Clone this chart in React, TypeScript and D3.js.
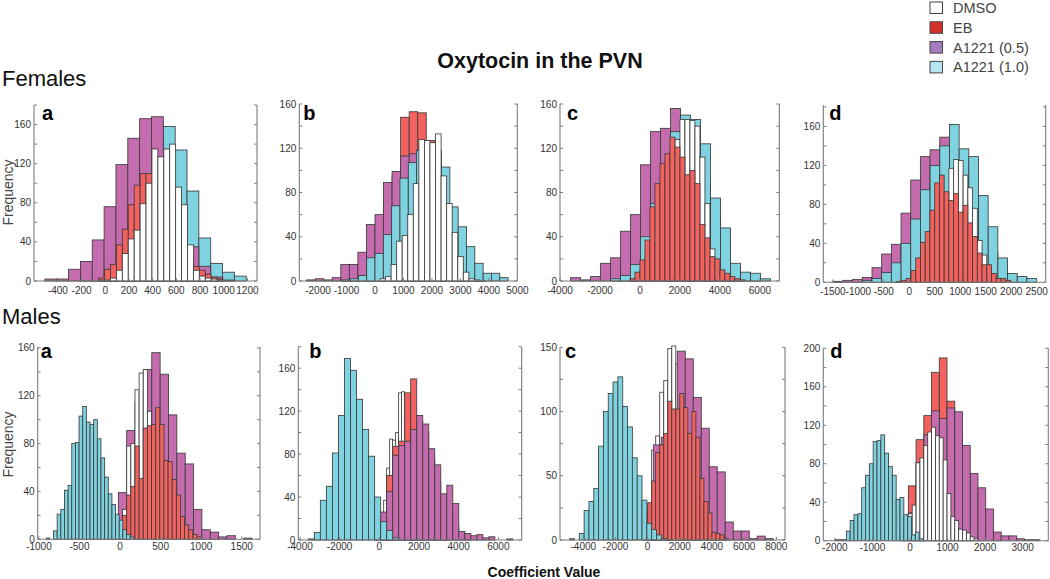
import React from 'react';
import * as d3 from 'd3';

// ---------- DATA ----------
const SERIES = ['DMSO', 'EB', 'A1221 (0.5)', 'A1221 (1.0)'];

// bins given as [first edge, bin width]; counts per bin
// Females a
const femA_DMSO = [1, 1, 3, 11, 28, 43, 52, 79, 100, 135, 127, 135, 140, 96, 78, 37, 11, 5, 3, 2, 1];
const femA_EB = [3, 12, 17, 37, 53, 78, 98, 110, 110, 100, 95, 85, 70, 55, 40, 25, 15, 11, 7, 4, 2];
const femA_A05 = [2, 2, 12, 20, 42, 76, 119, 146, 166, 168, 125, 70, 35, 15, 4, 1];
const femA_A10 = [0, 0, 0, 1, 4, 12, 28, 55, 95, 150, 158, 134, 92, 44, 18, 9, 5];
const femA_bins = { DMSO: [-56, 50], EB: [-56, 50], A05: [-510, 100], A10: [-510, 100] };
// Females b
const femB_DMSO = [2, 4, 15, 36, 41, 60, 88, 128, 127, 125, 133, 95, 70, 44, 22, 8, 2, 1];
const femB_EB = [0, 0, 0, 0, 3, 7, 15, 30, 50, 70, 95, 148, 153, 152, 127, 95, 60, 35, 15, 6, 2];
const femB_A05 = [1, 2, 1, 3, 15, 15, 26, 51, 60, 89, 99, 113, 115, 110, 100, 80, 60, 40, 25, 12, 5];
const femB_A10 = [0, 0, 0, 0, 1, 2, 5, 21, 25, 42, 68, 93, 107, 118, 122, 118, 103, 67, 49, 31, 16, 7, 7, 3];
const femB_bins = { DMSO: [175, 195], EB: [-2400, 300], A05: [-2400, 300], A10: [-2336, 292] };
// Females c
const femC_DMSO = [1, 3, 10, 20, 35, 55, 80, 100, 118, 128, 146, 146, 145, 140, 112, 70, 29, 14, 6, 3, 1];
const femC_EB = [2, 8, 19, 37, 67, 88, 106, 115, 130, 121, 112, 96, 100, 88, 51, 39, 22, 20, 10, 7, 4, 2, 1];
const femC_A05 = [3, 1, 4, 16, 21, 45, 60, 105, 135, 138, 156, 140, 120, 90, 60, 35, 12, 6, 3];
const femC_A10 = [0, 0, 0, 0, 2, 5, 15, 40, 70, 100, 135, 150, 146, 124, 75, 48, 16, 8, 7, 2];
const femC_bins = { DMSO: [-500, 250], EB: [-500, 250], A05: [-3470, 500], A10: [-3470, 500] };
// Females d
const femD_DMSO = [0, 1, 2, 5, 10, 20, 32, 48, 70, 88, 90, 117, 126, 125, 110, 97, 76, 43, 28, 12, 6, 3, 1];
const femD_EB = [1, 2, 4, 12, 25, 41, 52, 74, 102, 110, 93, 84, 91, 72, 79, 61, 47, 30, 18, 18, 9, 4, 4, 2];
const femD_A05 = [1, 2, 3, 5, 15, 29, 39, 71, 105, 129, 136, 149, 130, 110, 80, 55, 30, 15, 6, 2];
const femD_A10 = [0, 0, 0, 2, 4, 10, 20, 40, 65, 95, 120, 140, 162, 137, 129, 89, 57, 25, 9, 6, 4];
const femD_bins = { DMSO: [-246, 93], EB: [-246, 93], A05: [-1492, 190], A10: [-1492, 190] };
// Males a
const malA_DMSO = [25, 78, 80, 125, 139, 142, 107, 90, 80, 60, 45, 30, 20, 12, 8, 4, 2];
const malA_EB = [20, 37, 44, 78, 51, 93, 95, 96, 110, 96, 66, 65, 50, 37, 19, 12, 8, 4, 2];
const malA_A05 = [10, 39, 91, 115, 142, 156, 138, 104, 72, 63, 25, 8, 6, 2, 3, 0, 1];
const malA_A10 = [1, 0, 7, 21, 25, 41, 45, 80, 81, 103, 111, 98, 96, 100, 84, 68, 52, 38, 29, 21, 16, 8, 4, 2];
const malA_bins = { DMSO: [31, 51], EB: [31, 51], A05: [-124, 103], A10: [-910, 45] };
// Males b
const malB_DMSO = [10, 37, 67, 94, 93, 100, 137, 138, 120, 110, 100, 90, 80, 65, 50, 40, 30, 20, 12, 8, 4, 2];
const malB_EB = [5, 20, 60, 87, 92, 137, 150, 110, 100, 75, 55, 35, 25, 12, 5, 2];
const malB_A05 = [5, 26, 45, 79, 88, 92, 103, 116, 108, 85, 70, 43, 51, 34, 8, 6, 4, 5, 2, 3, 0, 0, 1];
const malB_A10 = [1, 7, 37, 50, 81, 116, 169, 158, 131, 103, 78, 40, 17, 9, 2];
const malB_bins = { DMSO: [67, 151], EB: [-236, 303], A05: [-236, 303], A10: [-3580, 304] };
// Males c
const malC_DMSO = [5, 25, 70, 81, 115, 124, 149, 151, 137, 120, 100, 85, 65, 45, 30, 18, 10, 5, 2];
const malC_EB = [10, 29, 46, 68, 74, 83, 108, 102, 102, 114, 103, 83, 100, 80, 48, 30, 21, 6, 5, 4, 1];
const malC_A05 = [20, 74, 80, 100, 147, 141, 111, 87, 57, 53, 14, 7, 7, 1, 3, 1];
const malC_A10 = [1, 0, 5, 23, 30, 40, 73, 100, 114, 123, 127, 104, 88, 64, 50, 31, 13, 8, 4, 1];
const malC_bins = { DMSO: [-250, 250], EB: [-250, 250], A05: [-145, 497], A10: [-4850, 300] };
// Males d
const malD_DMSO = [28, 37, 81, 86, 99, 113, 118, 109, 107, 84, 49, 25, 21, 12, 11, 8, 4, 2];
const malD_EB = [8, 57, 105, 130, 175, 190, 145, 110, 70, 40, 20, 8, 3];
const malD_A05 = [5, 29, 81, 110, 135, 127, 138, 134, 99, 70, 55, 33, 9, 5, 5, 2, 1, 1];
const malD_A10 = [1, 1, 1, 10, 21, 27, 28, 55, 68, 80, 103, 104, 110, 91, 77, 68, 43, 45, 27, 25, 6, 9, 2];
const malD_bins = { DMSO: [-44, 103], EB: [-250, 206], A05: [-250, 206], A10: [-2000, 102] };

// tick labels
const femA_xTicks = [-400, -200, 0, 200, 400, 600, 800, 1000, 1200];
const femB_xTicks = [-2000, -1000, 0, 1000, 2000, 3000, 4000, 5000];
const femC_xTicks = [-4000, -2000, 0, 2000, 4000, 6000];
const femD_xTicks = [-1500, -1000, -500, 0, 500, 1000, 1500, 2000, 2500];
const malA_xTicks = [-1000, -500, 0, 500, 1000, 1500];
const malB_xTicks = [-4000, -2000, 0, 2000, 4000, 6000];
const malC_xTicks = [-4000, -2000, 0, 2000, 4000, 6000, 8000];
const malD_xTicks = [-2000, -1000, 0, 1000, 2000, 3000];
const yTicks160 = [0, 40, 80, 120, 160];
const yTicks150 = [0, 50, 100, 150];
const yTicks200 = [0, 40, 80, 120, 160, 200];

// ---------- STYLE / LAYOUT ----------
const BAR_FILL: Record<string, string> = {
  DMSO: '#ffffff',
  EB: '#f3625e',
  A05: '#c56cae',
  A10: '#7fd3e0',
};
const LEGEND_FILL = ['#ffffff', '#d5322a', '#a67cc0', '#b5e5f1'];
const FONT = '"Liberation Sans", Arial, Helvetica, sans-serif';
const AXIS = '#7d7d7d';
const TXT = '#333333';

type Cfg = {
  letter: string;
  box: number[];
  xDomain: number[];
  yMax: number;
  xTicks: number[];
  yTicks: number[];
  order: string[];
  counts: Record<string, number[]>;
  bins: Record<string, number[]>;
  letterPos: number[];
  labelDy: number;
};

const panels: Cfg[] = [
  { letter: 'a', box: [34, 105, 257, 281], xDomain: [-602, 1281], yMax: 180, xTicks: femA_xTicks, yTicks: yTicks160,
    order: ['A10', 'A05', 'EB', 'DMSO'], counts: { DMSO: femA_DMSO, EB: femA_EB, A05: femA_A05, A10: femA_A10 }, bins: femA_bins, letterPos: [8, 15], labelDy: 9 },
  { letter: 'b', box: [299.3, 104, 517.3, 281], xDomain: [-2657, 4995], yMax: 160, xTicks: femB_xTicks, yTicks: yTicks160,
    order: ['EB', 'A05', 'A10', 'DMSO'], counts: { DMSO: femB_DMSO, EB: femB_EB, A05: femB_A05, A10: femB_A10 }, bins: femB_bins, letterPos: [4, 16], labelDy: 9 },
  { letter: 'c', box: [560, 104, 779.3, 281], xDomain: [-4000, 6970], yMax: 160, xTicks: femC_xTicks, yTicks: yTicks160,
    order: ['A05', 'A10', 'DMSO', 'EB'], counts: { DMSO: femC_DMSO, EB: femC_EB, A05: femC_A05, A10: femC_A10 }, bins: femC_bins, letterPos: [7, 16], labelDy: 9 },
  { letter: 'd', box: [823.3, 105, 1045.7, 282.3], xDomain: [-1688, 2677], yMax: 182, xTicks: femD_xTicks, yTicks: yTicks160,
    order: ['A05', 'A10', 'DMSO', 'EB'], counts: { DMSO: femD_DMSO, EB: femD_EB, A05: femD_A05, A10: femD_A10 }, bins: femD_bins, letterPos: [6, 15], labelDy: 9 },
  { letter: 'a', box: [37.7, 346.7, 260, 539.3], xDomain: [-1015, 1725], yMax: 161, xTicks: malA_xTicks, yTicks: yTicks160,
    order: ['A05', 'DMSO', 'EB', 'A10'], counts: { DMSO: malA_DMSO, EB: malA_EB, A05: malA_A05, A10: malA_A10 }, bins: malA_bins, letterPos: [3, 11.6], labelDy: 7 },
  { letter: 'b', box: [298.3, 346.7, 521.7, 540], xDomain: [-4084, 7176], yMax: 180, xTicks: malB_xTicks, yTicks: yTicks160,
    order: ['DMSO', 'EB', 'A05', 'A10'], counts: { DMSO: malB_DMSO, EB: malB_EB, A05: malB_A05, A10: malB_A10 }, bins: malB_bins, letterPos: [11, 11.6], labelDy: 6.5 },
  { letter: 'c', box: [560, 347.3, 785, 540], xDomain: [-5450, 8540], yMax: 150, xTicks: malC_xTicks, yTicks: yTicks150,
    order: ['DMSO', 'A05', 'EB', 'A10'], counts: { DMSO: malC_DMSO, EB: malC_EB, A05: malC_A05, A10: malC_A10 }, bins: malC_bins, letterPos: [5, 11], labelDy: 6.5 },
  { letter: 'd', box: [823.3, 348.3, 1048.3, 540.7], xDomain: [-2308, 3682], yMax: 200, xTicks: malD_xTicks, yTicks: yTicks200,
    order: ['EB', 'A05', 'DMSO', 'A10'], counts: { DMSO: malD_DMSO, EB: malD_EB, A05: malD_A05, A10: malD_A10 }, bins: malD_bins, letterPos: [7, 10], labelDy: 6.5 },
];

function Panel({ cfg }: { cfg: Cfg }) {
  const [l, t, r, b] = cfg.box;
  const x = d3.scaleLinear().domain(cfg.xDomain).range([l, r]);
  const y = d3.scaleLinear().domain([0, cfg.yMax]).range([b, t]);
  const bars: React.ReactNode[] = [];
  cfg.order.forEach((name) => {
    const [start, w] = cfg.bins[name];
    cfg.counts[name].forEach((c, i) => {
      if (c <= 0) return;
      const x0 = x(start + i * w);
      const x1 = x(start + (i + 1) * w);
      bars.push(
        <rect key={name + i} x={x0} y={y(c)} width={x1 - x0} height={y(0) - y(c)}
          fill={BAR_FILL[name]} stroke="#3d3d3d" strokeWidth={0.85} />
      );
    });
  });
  const yStep = cfg.yTicks[1] - cfg.yTicks[0];
  const minor = d3.range(0, cfg.yMax + 0.001, yStep / 2);
  return (
    <g>
      {bars}
      <line x1={l} x2={l} y1={t} y2={b} stroke={AXIS} strokeWidth={1.1} />
      <line x1={r} x2={r} y1={t} y2={b} stroke={AXIS} strokeWidth={1.1} />
      <line x1={l} x2={r} y1={b} y2={b} stroke={AXIS} strokeWidth={1.1} />
      {minor.map((v) => (
        <g key={'m' + v}>
          <line x1={l} x2={l + 3} y1={y(v)} y2={y(v)} stroke={AXIS} strokeWidth={1} />
          <line x1={r} x2={r - 3} y1={y(v)} y2={y(v)} stroke={AXIS} strokeWidth={1} />
        </g>
      ))}
      {cfg.xTicks.map((v) => (
        <g key={'x' + v}>
          <line x1={x(v)} x2={x(v)} y1={b} y2={b - 3} stroke={AXIS} strokeWidth={1} />
          <text x={x(v)} y={b + cfg.labelDy} textAnchor="middle" dominantBaseline="central"
            fontSize={10} fontFamily={FONT} fill={TXT}>{String(v)}</text>
        </g>
      ))}
      {cfg.yTicks.map((v) => (
        <text key={'y' + v} x={l - 3} y={y(v)} textAnchor="end" dominantBaseline="central"
          fontSize={10} fontFamily={FONT} fill={TXT}>{String(v)}</text>
      ))}
      <text x={l + cfg.letterPos[0]} y={t + cfg.letterPos[1]} fontSize={20} fontWeight="bold"
        fontFamily={FONT} fill="#000">{cfg.letter}</text>
    </g>
  );
}

export default function App() {
  return (
    <svg width={1050} height={579} style={{ position: 'absolute', left: 0, top: 0, background: '#fff' }}>
      <rect x={0} y={0} width={1050} height={579} fill="#fff" />
      <text x={540} y={68} textAnchor="middle" fontSize={21.5} fontWeight="bold" fontFamily={FONT} fill="#111">
        Oxytocin in the PVN
      </text>
      <text x={2} y={86} fontSize={22} fontFamily={FONT} fill="#111">Females</text>
      <text x={2} y={324} fontSize={22} fontFamily={FONT} fill="#111">Males</text>
      <text transform="translate(12.5,192.5) rotate(-90)" textAnchor="middle" fontSize={14}
        fontFamily={FONT} fill="#444">Frequency</text>
      <text transform="translate(12.5,444.5) rotate(-90)" textAnchor="middle" fontSize={14}
        fontFamily={FONT} fill="#444">Frequency</text>
      <text x={544} y={576.5} textAnchor="middle" fontSize={14} fontWeight="bold" fontFamily={FONT} fill="#111">
        Coefficient Value
      </text>
      {panels.map((p, i) => <Panel key={i} cfg={p} />)}
      {SERIES.map((s, i) => (
        <g key={s}>
          <rect x={930} y={2 + i * 19.8} width={12.5} height={11.5} fill={LEGEND_FILL[i]} stroke="#444" strokeWidth={1} />
          <text x={953} y={8 + i * 19.8} dominantBaseline="central" fontSize={14.5} fontFamily={FONT} fill="#444">{s}</text>
        </g>
      ))}
    </svg>
  );
}
